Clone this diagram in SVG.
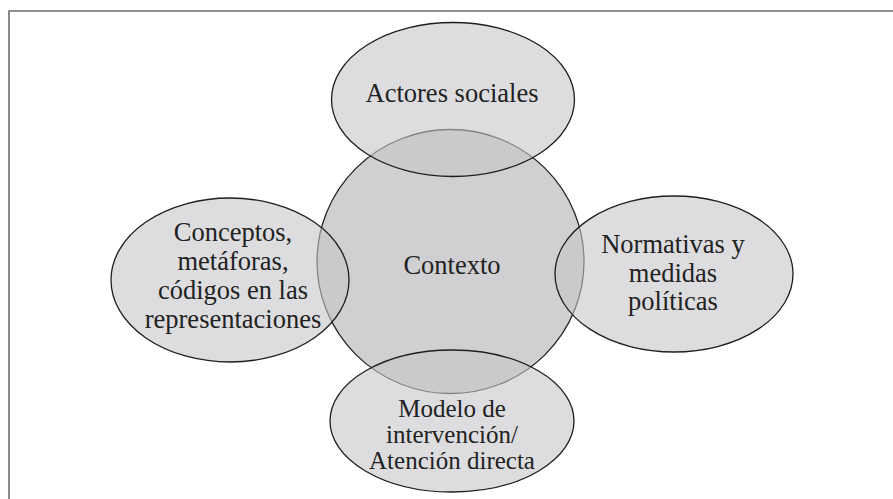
<svg xmlns="http://www.w3.org/2000/svg" width="893" height="499" viewBox="0 0 893 499">
<style>
.frame{fill:none;stroke:#6e6e6e;stroke-width:1.6}
.core{fill:#d0d0d2;stroke:#222;stroke-width:1.3}
.sat{fill:#c6c6ca;fill-opacity:0.6;stroke:#1e1e1e;stroke-width:1.3}
.t{font-family:'Liberation Serif','Times New Roman',serif;font-size:26.5px;fill:#222;text-anchor:middle}
.s{font-size:25px}
</style>
<rect width="893" height="499" fill="#fff"/>
<path class="frame" d="M9 499 V11 H893"/>
<g id="contexto">
<ellipse class="core" cx="450.5" cy="261.5" rx="133.5" ry="132"/>
<text class="t" x="452" y="274">Contexto</text>
</g>
<g id="actores">
<ellipse class="sat" cx="453" cy="99.5" rx="121.5" ry="77"/>
<text class="t" x="452" y="102">Actores sociales</text>
</g>
<g id="conceptos">
<ellipse class="sat" cx="230" cy="280" rx="119" ry="82"/>
<text class="t" x="233" y="241">Conceptos,</text>
<text class="t" x="233" y="270">metáforas,</text>
<text class="t" x="233" y="299">códigos en las</text>
<text class="t" x="233" y="328">representaciones</text>
</g>
<g id="normativas">
<ellipse class="sat" cx="674" cy="274" rx="119" ry="78"/>
<text class="t" x="673" y="253">Normativas y</text>
<text class="t" x="673" y="282">medidas</text>
<text class="t" x="673" y="310">políticas</text>
</g>
<g id="modelo">
<ellipse class="sat" cx="452" cy="421" rx="122" ry="71"/>
<text class="t s" x="452" y="417">Modelo de</text>
<text class="t s" x="452" y="443">intervención/</text>
<text class="t s" x="452" y="469">Atención directa</text>
</g>
<g id="connectors"></g>
</svg>
